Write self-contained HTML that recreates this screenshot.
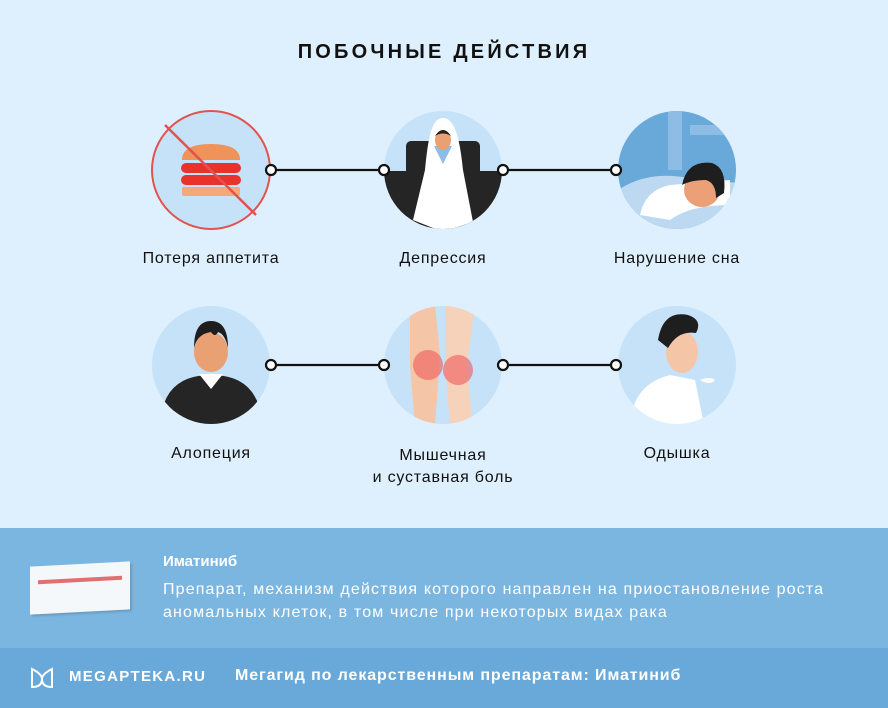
<!DOCTYPE html>
<html><head><meta charset="utf-8"><style>
body{margin:0;width:888px;height:708px;overflow:hidden;background:#deeffd;font-family:"Liberation Sans",sans-serif;position:relative}
.t{position:absolute;text-align:center;font-size:16px;letter-spacing:0.8px;color:#111;width:240px}
</style></head><body>
<div style="position:absolute;top:41px;left:0;width:888px;text-align:center;font-weight:bold;font-size:20px;letter-spacing:3.2px;color:#111">ПОБОЧНЫЕ ДЕЙСТВИЯ</div>
<svg width="888" height="520" style="position:absolute;left:0;top:0">
<defs>
<clipPath id="c2"><circle cx="443" cy="170" r="59"/></clipPath>
<clipPath id="c3"><circle cx="677" cy="170" r="59"/></clipPath>
<clipPath id="c4"><circle cx="211" cy="365" r="59"/></clipPath>
<clipPath id="c5"><circle cx="443" cy="365" r="59"/></clipPath>
<clipPath id="c6"><circle cx="677" cy="365" r="59"/></clipPath>
</defs>
<g stroke="#111" stroke-width="2.2" fill="#fff">
<line x1="271" y1="170" x2="384" y2="170"/><line x1="503" y1="170" x2="616" y2="170"/>
<line x1="271" y1="365" x2="384" y2="365"/><line x1="503" y1="365" x2="616" y2="365"/>
</g>
<!-- circle 1 -->
<circle cx="211" cy="170" r="59" fill="#c6e2f8" stroke="#e2524f" stroke-width="2"/>
<path d="M182 160 q0-16 29-16 q29 0 29 16z" fill="#f0935a"/>
<rect x="181" y="163" width="60" height="10" rx="5" fill="#e8332d"/>
<rect x="181" y="175" width="60" height="10" rx="5" fill="#e8332d"/>
<rect x="182" y="187" width="58" height="9" rx="2" fill="#f5a878"/>
<line x1="165" y1="125" x2="256" y2="215" stroke="#e2524f" stroke-width="2.5"/>
<!-- circle 2 -->
<circle cx="443" cy="170" r="59" fill="#c6e2f8"/>
<g clip-path="url(#c2)">
<path d="M406 146 a5 5 0 0 1 5-5 h64 a5 5 0 0 1 5 5 v25 h25 v70 h-124 v-70 h25z" fill="#252525"/>
<path d="M443 118 c-12 0-15 22-18 52 l-12 50 l30 12 l30-10 l-10-52 c-3-30-8-52-20-52z" fill="#fff"/>
<path d="M434 146 l9 18 l9-18z" fill="#8dbde4"/>
</g>
<ellipse cx="443" cy="140" rx="8" ry="10" fill="#e9a072"/>
<path d="M435 136 q8-12 16 0 q-8-5-16 0z" fill="#222"/>
<!-- circle 3 -->
<circle cx="677" cy="170" r="59" fill="#68a9da"/>
<g clip-path="url(#c3)">
<rect x="668" y="110" width="14" height="60" fill="#8dbde4"/>
<rect x="690" y="125" width="50" height="10" fill="#8dbde4"/>
<path d="M618 190 q30-20 70-12 l50 5 v50 h-120z" fill="#bcd9f1"/>
<path d="M640 215 q5-25 30-30 l60 -5 v25 q-40 0 -60 15z" fill="#fff"/>
<ellipse cx="702" cy="190" rx="18" ry="17" fill="#eca078"/>
<path d="M682 185 q5-25 30-22 q15 5 12 30 l-8 5 q0-15-10-18 q-15 0-24 5z" fill="#1e1e1e"/>
</g>
<!-- row2 c1 -->
<circle cx="211" cy="365" r="59" fill="#c6e2f8"/>
<g clip-path="url(#c4)">
<path d="M160 430 q0-55 51-55 q51 0 51 55z" fill="#252525"/>
<path d="M199 374 l12 15 l12-15z" fill="#fff"/>
</g>
<ellipse cx="211" cy="352" rx="17" ry="20" fill="#e9a072"/>
<path d="M194 348 q0-27 17-27 q17 0 17 27 q-3-14-10-16 q-3 6-7 0 q-14 2-17 16z" fill="#1e1e1e"/>
<!-- row2 c2 -->
<circle cx="443" cy="365" r="59" fill="#c6e2f8"/>
<g clip-path="url(#c5)">
<path d="M410 305 h25 l5 50 l-5 70 h-20 l-5-60z" fill="#f4c5a7"/>
<path d="M445 305 h30 l-8 60 l5 60 h-22 l-5-60z" fill="#f7d2bb"/>
</g>
<circle cx="428" cy="365" r="15" fill="#ee5a5a" opacity=".6"/>
<circle cx="458" cy="370" r="15" fill="#ee5a5a" opacity=".6"/>
<!-- row2 c3 -->
<circle cx="677" cy="365" r="59" fill="#c6e2f8"/>
<g clip-path="url(#c6)">
<path d="M630 430 q0-45 40-55 l25 5 l10 50z" fill="#fff"/>
</g>
<ellipse cx="682" cy="352" rx="16" ry="21" fill="#f4c5a7"/>
<path d="M658 340 q5-30 30-25 q15 5 8 18 q-18-3-28 15 z" fill="#1e1e1e"/>
<path d="M700 380 q10-4 15 0 q-5 6-15 0z" fill="#fff"/>
<g fill="#fff" stroke="#111" stroke-width="2.2">
<circle cx="271" cy="170" r="5"/><circle cx="384" cy="170" r="5"/><circle cx="503" cy="170" r="5"/><circle cx="616" cy="170" r="5"/>
<circle cx="271" cy="365" r="5"/><circle cx="384" cy="365" r="5"/><circle cx="503" cy="365" r="5"/><circle cx="616" cy="365" r="5"/>
</g>
</svg>
<div class="t" style="left:91px;top:250px">Потеря аппетита</div>
<div class="t" style="left:323px;top:250px">Депрессия</div>
<div class="t" style="left:557px;top:250px">Нарушение сна</div>
<div class="t" style="left:91px;top:445px">Алопеция</div>
<div class="t" style="left:323px;top:445px;line-height:22px">Мышечная<br>и суставная боль</div>
<div class="t" style="left:557px;top:445px">Одышка</div>
<div style="position:absolute;left:0;top:528px;width:888px;height:120px;background:#7bb6e1"></div>
<div style="position:absolute;left:30px;top:564px;width:100px;height:48px;background:#f4f8fb;transform:skewY(-3deg);box-shadow:2px 2px 2px rgba(0,0,0,.15)"><div style="margin:14px 8px;height:4px;background:#e07070"></div></div>
<div style="position:absolute;left:163px;top:553px;color:#fff;font-weight:bold;font-size:15px">Иматиниб</div>
<div style="position:absolute;left:163px;top:578px;color:#fff;font-size:16px;letter-spacing:1.15px;line-height:23px;width:720px;white-space:nowrap">Препарат, механизм действия которого направлен на приостановление роста<br>аномальных клеток, в том числе при некоторых видах рака</div>
<div style="position:absolute;left:0;top:648px;width:888px;height:60px;background:#68a9da"></div>
<svg width="26" height="24" style="position:absolute;left:29px;top:666px"><path d="M3 3 q10 5 10 10 q0-5 10-10 v18 q-10 0-10-8 q0 8-10 8z" fill="none" stroke="#fff" stroke-width="2"/></svg>
<div style="position:absolute;left:69px;top:668px;color:#fff;font-weight:bold;font-size:15px;letter-spacing:1.3px">MEGAPTEKA.RU</div>
<div style="position:absolute;left:235px;top:667px;color:#fff;font-weight:bold;font-size:16px;letter-spacing:0.9px;white-space:nowrap">Мегагид по лекарственным препаратам: Иматиниб</div>
</body></html>
